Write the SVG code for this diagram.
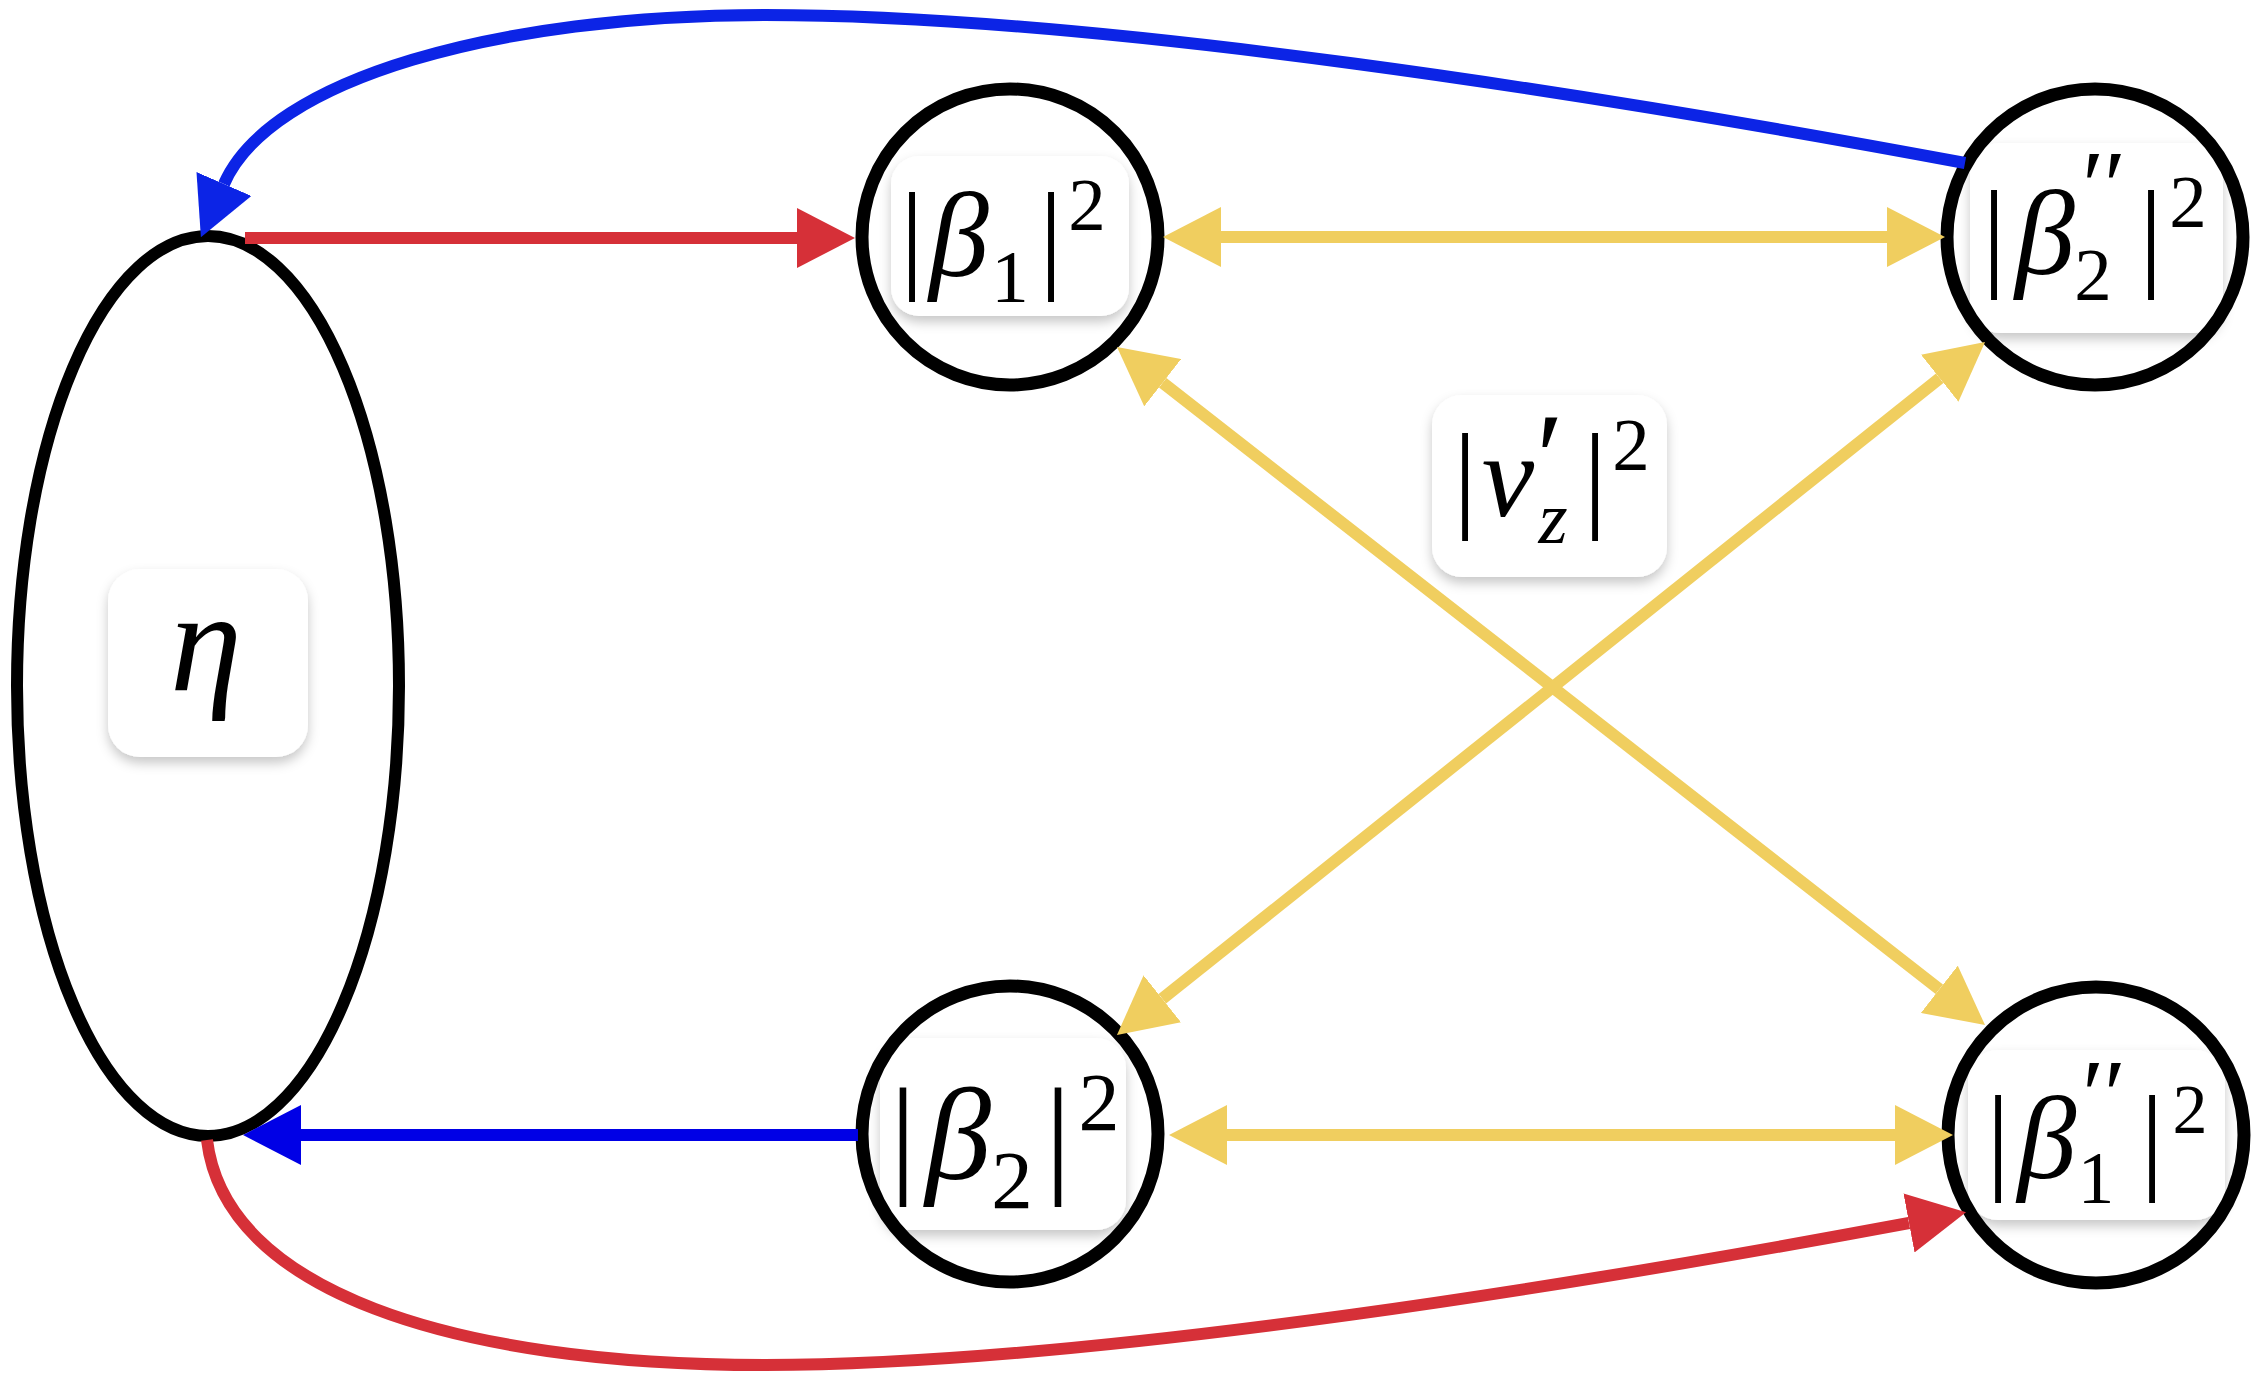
<svg xmlns="http://www.w3.org/2000/svg" width="2262" height="1382" viewBox="0 0 2262 1382">
<defs>
<style>
.ell{fill:#fff;stroke:#000;stroke-width:12}
.ring{fill:none;stroke:#000;stroke-width:13}
.box{fill:#fff;filter:url(#sh)}
.lbl{font-family:"Liberation Serif","DejaVu Serif",serif;fill:#000}
.it{font-style:italic}
.c{fill:none;stroke-width:12}
.red{stroke:#d63038}
.blue{stroke:#0c24e6}
.blue2{stroke:#0000e6}
.yel{stroke:#f0ce5f}
</style>
<filter id="sh" x="-20%" y="-20%" width="140%" height="150%">
<feDropShadow dx="0" dy="6" stdDeviation="6" flood-color="#000" flood-opacity="0.22"/>
</filter>
<marker id="ah-red" viewBox="0 0 58 60" refX="0" refY="30" markerWidth="58" markerHeight="60" markerUnits="userSpaceOnUse" orient="auto"><path d="M0,0 L58,30 L0,60 z" fill="#d63038"/></marker>
<marker id="ah-blue" viewBox="0 0 58 60" refX="0" refY="30" markerWidth="58" markerHeight="60" markerUnits="userSpaceOnUse" orient="auto"><path d="M0,0 L58,30 L0,60 z" fill="#0c24e6"/></marker>
<marker id="ah-blue2" viewBox="0 0 58 60" refX="0" refY="30" markerWidth="58" markerHeight="60" markerUnits="userSpaceOnUse" orient="auto"><path d="M0,0 L58,30 L0,60 z" fill="#0000e6"/></marker>
<marker id="ah-yel" viewBox="0 0 58 60" refX="0" refY="30" markerWidth="58" markerHeight="60" markerUnits="userSpaceOnUse" orient="auto-start-reverse"><path d="M0,0 L58,30 L0,60 z" fill="#f0ce5f"/></marker>
</defs>
<rect width="2262" height="1382" fill="#fff"/>

<g id="node-eta">
<ellipse class="ell" cx="208" cy="686" rx="191" ry="450"/>
<rect class="box" x="108" y="569" width="200" height="188" rx="32"/>
<text class="lbl it" x="206" y="690" font-size="145" text-anchor="middle">η</text>
</g>

<g id="node-beta1">
<circle cx="1010" cy="237" r="148" fill="#fff"/>
<rect class="box" x="891" y="156" width="238" height="160" rx="28"/>
<circle class="ring" cx="1010" cy="237" r="148"/>
<text class="lbl" text-anchor="middle"><tspan x="912" y="276" font-size="120">|</tspan><tspan class="it" x="959" y="276" font-size="120">β</tspan><tspan x="1010" y="302" font-size="75">1</tspan><tspan x="1051" y="276" font-size="120">|</tspan><tspan x="1087" y="230" font-size="75">2</tspan></text>
</g>

<g id="node-beta2pp">
<circle cx="2095" cy="237" r="148" fill="#fff"/>
<rect class="box" x="1970" y="143" width="253" height="190" rx="30"/>
<circle class="ring" cx="2095" cy="237" r="148"/>
<text class="lbl" text-anchor="middle"><tspan x="1994" y="274" font-size="120">|</tspan><tspan class="it" x="2045" y="274" font-size="120">β</tspan><tspan x="2104" y="219" font-size="100">′′</tspan><tspan x="2093" y="300" font-size="75">2</tspan><tspan x="2151" y="274" font-size="120">|</tspan><tspan x="2188" y="227" font-size="75">2</tspan></text>
</g>

<g id="node-beta2">
<circle cx="1010" cy="1134" r="148" fill="#fff"/>
<rect class="box" x="880" y="1038" width="246" height="192" rx="30"/>
<circle class="ring" cx="1010" cy="1134" r="148"/>
<text class="lbl" text-anchor="middle"><tspan x="903" y="1179" font-size="132">|</tspan><tspan class="it" x="958" y="1179" font-size="132">β</tspan><tspan x="1012" y="1208" font-size="83">2</tspan><tspan x="1058" y="1179" font-size="132">|</tspan><tspan x="1099" y="1130" font-size="82">2</tspan></text>
</g>

<g id="node-beta1pp">
<circle cx="2096" cy="1135" r="148" fill="#fff"/>
<rect class="box" x="1968" y="1050" width="257" height="170" rx="30"/>
<circle class="ring" cx="2096" cy="1135" r="148"/>
<text class="lbl" text-anchor="middle"><tspan x="1998" y="1178" font-size="118">|</tspan><tspan class="it" x="2047" y="1178" font-size="118">β</tspan><tspan x="2104" y="1128" font-size="100">′′</tspan><tspan x="2096" y="1203" font-size="73">1</tspan><tspan x="2152" y="1178" font-size="118">|</tspan><tspan x="2190" y="1133" font-size="70">2</tspan></text>
</g>

<g id="label-vz">
<rect class="box" x="1432" y="395" width="235" height="182" rx="30"/>
<text class="lbl" text-anchor="middle"><tspan x="1465" y="516" font-size="118">|</tspan><tspan class="it" x="1508" y="516" font-size="118">v</tspan><tspan x="1550" y="500" font-size="125">′</tspan><tspan class="it" x="1553" y="543" font-size="75">z</tspan><tspan x="1595" y="516" font-size="118">|</tspan><tspan x="1631" y="470" font-size="75">2</tspan></text>
</g>

<g id="connectors">
<path class="c red" d="M245 238 L797 238" marker-end="url(#ah-red)"/>
<path class="c blue" d="M1965 163 C1600 95 1100 15 765 15 C500 15 270 78 224 184" marker-end="url(#ah-blue)"/>
<path class="c blue2" d="M858 1135 L301 1135" marker-end="url(#ah-blue2)"/>
<path class="c red" d="M207 1140 C225 1290 450 1365 765 1365 C1100 1365 1614 1278 1909 1223" marker-end="url(#ah-red)"/>
<path class="c yel" d="M1221 237 L1887 237" marker-start="url(#ah-yel)" marker-end="url(#ah-yel)"/>
<path class="c yel" d="M1227 1135 L1895 1135" marker-start="url(#ah-yel)" marker-end="url(#ah-yel)"/>
<path class="c yel" d="M1162.7 382.7 L1939.3 989.3" marker-start="url(#ah-yel)" marker-end="url(#ah-yel)"/>
<path class="c yel" d="M1939.7 378.2 L1162.3 998.8" marker-start="url(#ah-yel)" marker-end="url(#ah-yel)"/>
</g>
</svg>
